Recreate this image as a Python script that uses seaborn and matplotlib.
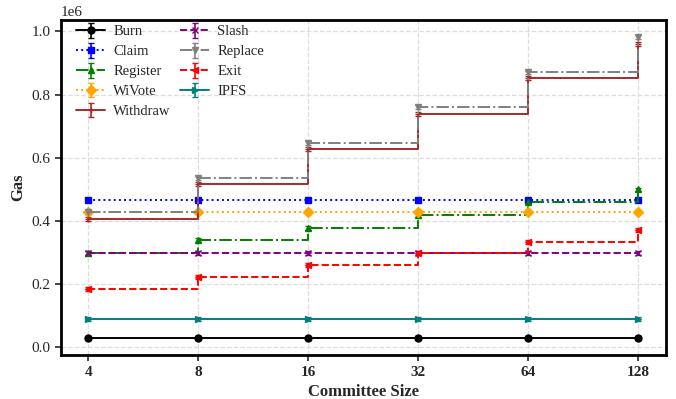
import matplotlib
matplotlib.use("Agg")
import matplotlib.pyplot as plt
import seaborn as sns
import numpy as np

sizes = [4, 8, 16, 32, 64, 128]
burn = [0.030e6] * 6
claim = [0.468e6] * 6
register = [0.300e6, 0.340e6, 0.378e6, 0.418e6, 0.460e6, 0.500e6]
wivote = [0.428e6] * 6
withdraw = [0.407e6, 0.517e6, 0.627e6, 0.739e6, 0.852e6, 0.960e6]
slash = [0.300e6] * 6
replace = [0.427e6, 0.537e6, 0.647e6, 0.760e6, 0.870e6, 0.982e6]
exit_ = [0.186e6, 0.222e6, 0.260e6, 0.298e6, 0.334e6, 0.372e6]
ipfs = [0.090e6] * 6
err = 0.006e6

sns.set_style("white")
plt.rcParams["font.family"] = ["Liberation Serif", "DejaVu Serif"]
plt.rcParams["mathtext.fontset"] = "stix"

fig, ax = plt.subplots(figsize=(6.76, 3.99), dpi=100)

series = [
    ("Burn", burn, "black", "-", "o"),
    ("Claim", claim, "blue", ":", "s"),
    ("Register", register, "green", "-.", "^"),
    ("WiVote", wivote, "orange", ":", "D"),
    ("Withdraw", withdraw, "#a52a2a", "-", "+"),
    ("Slash", slash, "purple", "--", "x"),
    ("Replace", replace, "gray", "-.", "v"),
    ("Exit", exit_, "red", "--", "<"),
    ("IPFS", ipfs, "teal", "-", ">"),
]
for name, vals, c, ls, m in series:
    ax.errorbar(sizes, vals, yerr=err, color=c, linestyle=ls, marker=m,
                markersize=5, linewidth=1.4, capsize=2.5, elinewidth=1.2,
                drawstyle="steps-post", label=name)

ax.set_xscale("log", base=2)
ax.set_xticks(sizes)
ax.set_xticklabels([str(s) for s in sizes], fontweight="bold", fontsize=11)
ax.set_xticks([], minor=True)
ax.tick_params(axis="y", labelsize=11)
ax.tick_params(axis="both", direction="out", length=4, width=1.2, left=True, bottom=True)
ax.set_xlabel("Committee Size", fontweight="bold", fontsize=12)
ax.set_ylabel("Gas", fontweight="bold", fontsize=12)
ax.yaxis.get_offset_text().set_fontsize(11)
ax.grid(True, linestyle="--", color="#dddddd", linewidth=0.9)
for sp in ax.spines.values():
    sp.set_linewidth(2)
    sp.set_color("black")

ax.legend(ncol=2, loc="upper left", bbox_to_anchor=(0.012, 1.008),
          frameon=False, fontsize=10.5,
          handlelength=2.0, handletextpad=0.55, columnspacing=0.65,
          labelspacing=0.46, borderaxespad=0.15)

fig.subplots_adjust(left=0.09, right=0.985, top=0.95, bottom=0.11)
fig.savefig("out.png", dpi=100)
